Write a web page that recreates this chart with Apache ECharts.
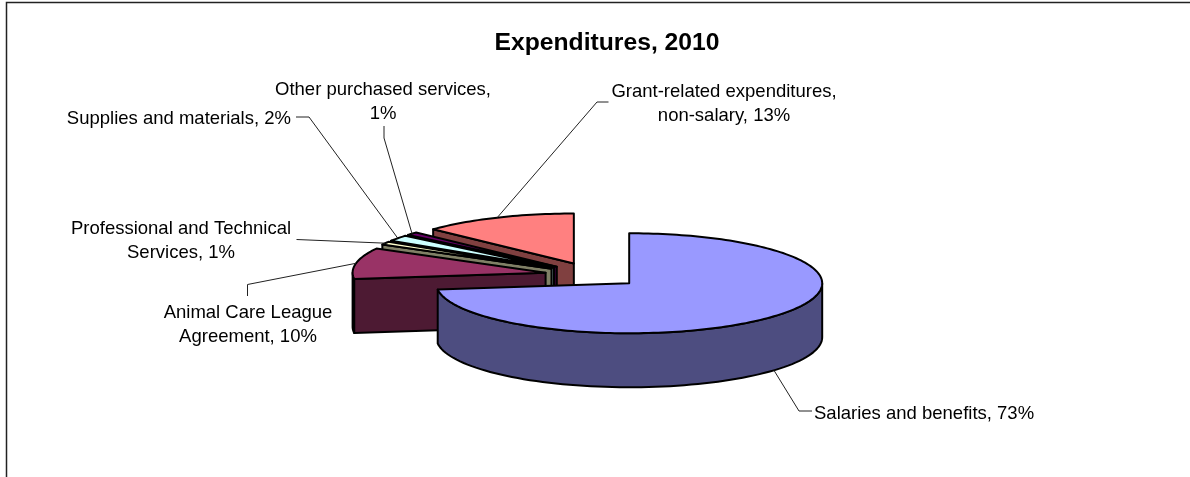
<!DOCTYPE html>
<html>
<head>
<meta charset="utf-8">
<title>Expenditures, 2010</title>
<style>
  html, body { margin: 0; padding: 0; background: #fff; }
  #chart { width: 1190px; height: 477px; }
</style>
<script src="https://cdn.jsdelivr.net/npm/echarts@6/dist/echarts.min.js"></script>
</head>
<body>
<div id="chart"></div>
<script>
// data, clockwise from 12 o'clock
var categories = ['Salaries and benefits', 'Animal Care League Agreement', 'Professional and Technical Services',
    'Supplies and materials', 'Other purchased services', 'Grant-related expenditures, non-salary'];
var shares = [73, 10, 1, 2, 1, 13];
var labelTexts = ['Salaries and benefits, 73%', 'Animal Care League\nAgreement, 10%', 'Professional and Technical\nServices, 1%',
    'Supplies and materials, 2%', 'Other purchased services,\n1%', 'Grant-related expenditures,\nnon-salary, 13%'];
var topColors = ['#9999FF', '#993366', '#FFFFCC', '#CCFFFF', '#660066', '#FF8080'];
var sideColors = ['#4D4D80', '#4D1A33', '#808066', '#668080', '#330033', '#804040'];

// layout of the pie (tilted, exploded)
var cx = 593, cy = 275, rx = 193, ry = 50, depth = 54, explode = 0.25;

// where each label sits and how its leader line bends after leaving the slice
var labelPos = [
    { x: 814, y: 414, align: 'left', bend: [[799, 411], [812, 411]] },
    { x: 248, y: 325, align: 'center', bend: [[247.5, 284.5], [247.5, 296]] },
    { x: 181, y: 241, align: 'center', bend: [[296.5, 239.5]] },
    { x: 291, y: 119, align: 'right', bend: [[309, 117], [296, 117]] },
    { x: 383, y: 102, align: 'center', bend: [[384, 138], [384, 126]] },
    { x: 724, y: 104, align: 'center', bend: [[597, 102], [608.5, 102]] }
];

var seriesData = [];
var running = 0;
shares.forEach(function (v, i) {
    seriesData.push({ value: [v, running, i] });
    running += v;
});
// back slices first so the front ones paint over them
seriesData.reverse();

var toAngle = function (pct) { return pct / running * Math.PI * 2; };

function renderSlice(params, api) {
    var share = api.value(0), start = toAngle(api.value(1)), end = toAngle(api.value(1) + share), idx = api.value(2);
    var mid = (start + end) / 2;
    var ox = cx + Math.sin(mid) * rx * explode;
    var oy = cy - Math.cos(mid) * ry * explode;
    var pt = function (a, drop) {
        return [ox + Math.sin(a) * rx, oy - Math.cos(a) * ry + (drop || 0)];
    };
    var lineStyle = { stroke: '#000', lineWidth: 2, lineJoin: 'round' };
    var children = [];
    var addPoly = function (points, fill) {
        children.push({ type: 'polygon', shape: { points: points }, style: Object.assign({ fill: fill }, lineStyle) });
    };

    // cut faces, only the ones turned to the viewer
    if (Math.sin(start) < -1e-6) {
        addPoly([[ox, oy], pt(start), pt(start, depth), [ox, oy + depth]], sideColors[idx]);
    }
    if (Math.sin(end) > 1e-6) {
        addPoly([[ox, oy], pt(end), pt(end, depth), [ox, oy + depth]], sideColors[idx]);
    }

    // outer wall, lower half of the ellipse only
    var wallFrom = Math.max(start, Math.PI / 2), wallTo = Math.min(end, Math.PI * 1.5);
    if (wallTo > wallFrom) {
        var upper = [], lower = [];
        for (var k = 0; k <= 80; k++) {
            var a = wallFrom + (wallTo - wallFrom) * k / 80;
            upper.push(pt(a));
            lower.unshift(pt(a, depth));
        }
        addPoly(upper.concat(lower), sideColors[idx]);
    }

    // top face
    var top = [[ox, oy]];
    var steps = Math.max(6, Math.ceil((end - start) * 40));
    for (var j = 0; j <= steps; j++) {
        top.push(pt(start + (end - start) * j / steps));
    }
    addPoly(top, topColors[idx]);

    // leader line starts at the middle of the slice's outer edge
    var isFront = Math.cos(mid) < 0;
    var place = labelPos[idx];
    children.push({
        type: 'polyline',
        z2: 20,
        shape: { points: [pt(mid, isFront ? depth : 0)].concat(place.bend) },
        style: { fill: null, stroke: '#222', lineWidth: 1 }
    });
    children.push({
        type: 'text',
        z2: 21,
        style: {
            x: place.x, y: place.y, text: labelTexts[idx], fill: '#000',
            font: '18.5px "Liberation Sans", Arial, sans-serif', lineHeight: 24,
            align: place.align, verticalAlign: 'middle'
        }
    });
    return { type: 'group', children: children };
}

var myChart = echarts.init(document.getElementById('chart'), null, { renderer: 'canvas' });
var option = {
    animation: false,
    backgroundColor: '#fff',
    title: {
        text: 'Expenditures, 2010',
        left: 602,
        top: 26,
        textAlign: 'center',
        textStyle: { fontFamily: '"Liberation Sans", Arial, sans-serif', fontSize: 24.7, fontWeight: 'bold', color: '#000' }
    },
    // chart frame, right and bottom run off the picture
    graphic: [{
        type: 'polyline',
        shape: { points: [[6.5, 477], [6.5, 2.5], [1190, 2.5]] },
        style: { fill: null, stroke: '#222', lineWidth: 1.5 }
    }],
    series: [{
        type: 'custom',
        coordinateSystem: 'none',
        renderItem: renderSlice,
        data: seriesData
    }]
};
myChart.setOption(option);
</script>
</body>
</html>
